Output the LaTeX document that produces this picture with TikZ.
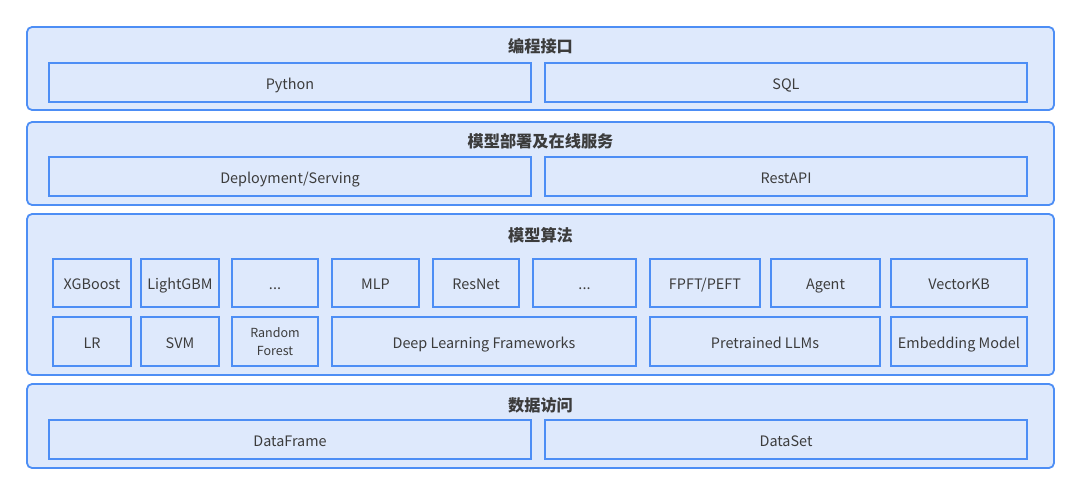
\documentclass[tikz,border=0pt]{standalone}
\usepackage{fontspec}
\setmainfont{Noto Sans CJK SC}
\usepackage{tikz}

\definecolor{edge}{HTML}{4D8EF5}
\definecolor{pale}{HTML}{DEE9FC}
\definecolor{ink}{HTML}{3C3C3C}

\tikzset{
  layer/.style={draw=edge, fill=pale, line width=1.8pt, rounded corners=5pt, inner sep=0pt},
  cellbase/.style={draw=edge, fill=pale, line width=1.8pt, inner sep=0pt, text=ink, align=center},
  cell/.style={cellbase, font=\fontsize{14.4}{16}\selectfont, text height=13pt, text depth=0pt},
  title/.style={text=ink, font=\fontsize{16.2}{18}\selectfont\bfseries}
}

\begin{document}
\begin{tikzpicture}[x=1pt,y=-1pt]
    \useasboundingbox (0,0) rectangle (1080,495);
    % layers
    \node[layer, minimum width=1027pt, minimum height=83pt] (lapi) at (540.5,68.5) {};
    \node[layer, minimum width=1027pt, minimum height=83pt] (lsrv) at (540.5,163.5) {};
    \node[layer, minimum width=1027pt, minimum height=161pt] (lalg) at (540.5,294.5) {};
    \node[layer, minimum width=1027pt, minimum height=84pt] (ldat) at (540.5,426) {};
    \node[title] (tapi) at (540.5,46.5) {编程接口};
    \node[title] (tsrv) at (540.5,141.5) {模型部署及在线服务};
    \node[title] (talg) at (540.5,235.5) {模型算法};
    \node[title] (tdat) at (540.5,405.5) {数据访问};
    % interface / serving / data
    \node[cell, minimum width=482pt, minimum height=39pt] (py) at (290,82.5) {Python};
    \node[cell, minimum width=482pt, minimum height=39pt] (sql) at (786,82.5) {SQL};
    \node[cell, minimum width=482pt, minimum height=39pt] (dep) at (290,176.5) {Deployment/Serving};
    \node[cell, minimum width=482pt, minimum height=39pt] (rest) at (786,176.5) {RestAPI};
    \node[cell, minimum width=482pt, minimum height=39pt] (df) at (290,439.5) {DataFrame};
    \node[cell, minimum width=482pt, minimum height=39pt] (ds) at (786,439.5) {DataSet};
    % algorithms, upper row
    \node[cell, minimum width=78pt, minimum height=48pt] (xgb) at (92,283) {XGBoost};
    \node[cell, minimum width=78pt, minimum height=48pt] (lgbm) at (180,283) {LightGBM};
    \node[cell, minimum width=86pt, minimum height=48pt] (etc1) at (275,283) {...};
    \node[cell, minimum width=87pt, minimum height=48pt] (mlp) at (375.5,283) {MLP};
    \node[cell, minimum width=86pt, minimum height=48pt] (res) at (476,283) {ResNet};
    \node[cell, minimum width=103pt, minimum height=48pt] (etc2) at (584.5,283) {...};
    \node[cell, minimum width=110pt, minimum height=48pt] (ft) at (705,283) {FPFT/PEFT};
    \node[cell, minimum width=109pt, minimum height=48pt] (agent) at (825.5,283) {Agent};
    \node[cell, minimum width=136pt, minimum height=48pt] (vkb) at (959,283) {VectorKB};
    % algorithms, lower row
    \node[cell, minimum width=78pt, minimum height=49pt] (lr) at (92,341.5) {LR};
    \node[cell, minimum width=78pt, minimum height=49pt] (svm) at (180,341.5) {SVM};
    \node[cellbase, minimum width=86pt, minimum height=49pt, font=\fontsize{12.5}{18}\selectfont] (rf) at (275,341.5) {Random\\Forest};
    \node[cell, minimum width=304pt, minimum height=49pt] (dlf) at (484,341.5) {Deep Learning Frameworks};
    \node[cell, minimum width=230pt, minimum height=49pt] (llm) at (765,341.5) {Pretrained LLMs};
    \node[cell, minimum width=136pt, minimum height=49pt] (emb) at (959,341.5) {Embedding Model};
\end{tikzpicture}
\end{document}
